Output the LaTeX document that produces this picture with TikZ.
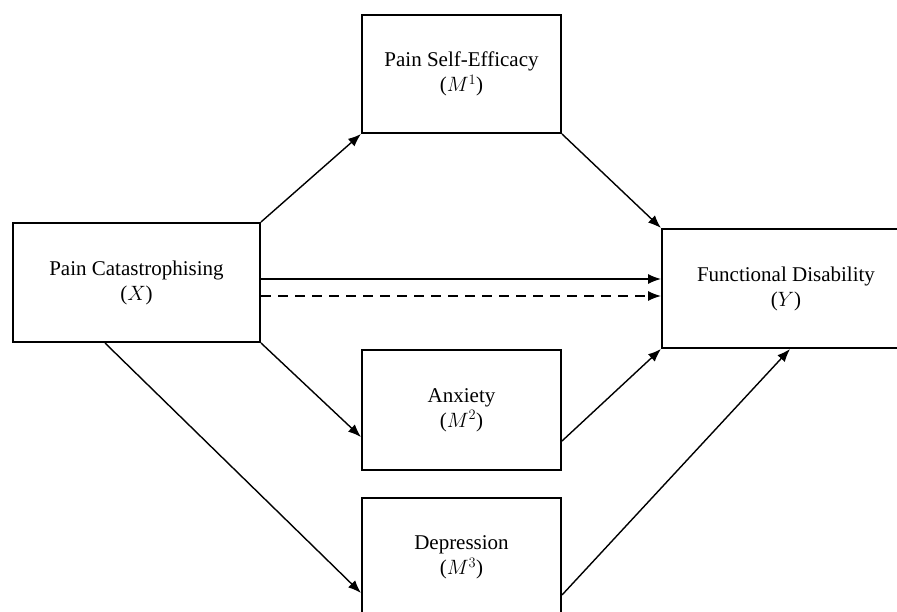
\documentclass[tikz,border=0pt]{standalone}
\usepackage{fontspec}
\setmainfont{Liberation Serif}
\usetikzlibrary{arrows.meta}
\begin{document}
\begin{tikzpicture}[x=1pt,y=-1pt,
  box/.style={draw,line width=2pt,rectangle,inner sep=0pt,align=center,
    font=\fontsize{21}{25}\selectfont},
  conn/.style={line width=1.4pt,-{Latex[length=13pt,width=10pt]}},
  dashconn/.style={conn,dash pattern=on 10pt off 7pt}]
\useasboundingbox (0,0) rectangle (897,612);
\node[box,minimum width=199pt,minimum height=118pt] (M1) at (461.5,74) {Pain Self-Efficacy\\($M^1$)};
\node[box,minimum width=247pt,minimum height=119pt] (X) at (136.5,282.5) {Pain Catastrophising\\($X$)};
\node[box,minimum width=248pt,minimum height=119pt] (Y) at (786,288.5) {Functional Disability\\($Y$)};
\node[box,minimum width=199pt,minimum height=120pt] (M2) at (461.5,410) {Anxiety\\($M^2$)};
\node[box,minimum width=199pt,minimum height=119pt] (M3) at (461.5,557.5) {Depression\\($M^3$)};
\draw[conn] (X.north east) -- (M1.south west);
\draw[conn] (M1.south east) -- (Y.north west);
\draw[conn] ([yshift=3.5pt]X.east) -- ([yshift=3.5pt]X.east -| Y.west);
\draw[dashconn] ([yshift=-13.5pt]X.east) -- ([yshift=-13.5pt]X.east -| Y.west);
\draw[conn] (X.south east) -- ([yshift=-27pt]M2.west);
\draw[conn] ([yshift=-31pt]M2.east) -- (Y.south west);
\draw[conn] ([xshift=-31.5pt]X.south) -- ([yshift=-35.5pt]M3.west);
\draw[conn] ([yshift=-37.5pt]M3.east) -- ([xshift=4pt]Y.south);
\end{tikzpicture}
\end{document}
